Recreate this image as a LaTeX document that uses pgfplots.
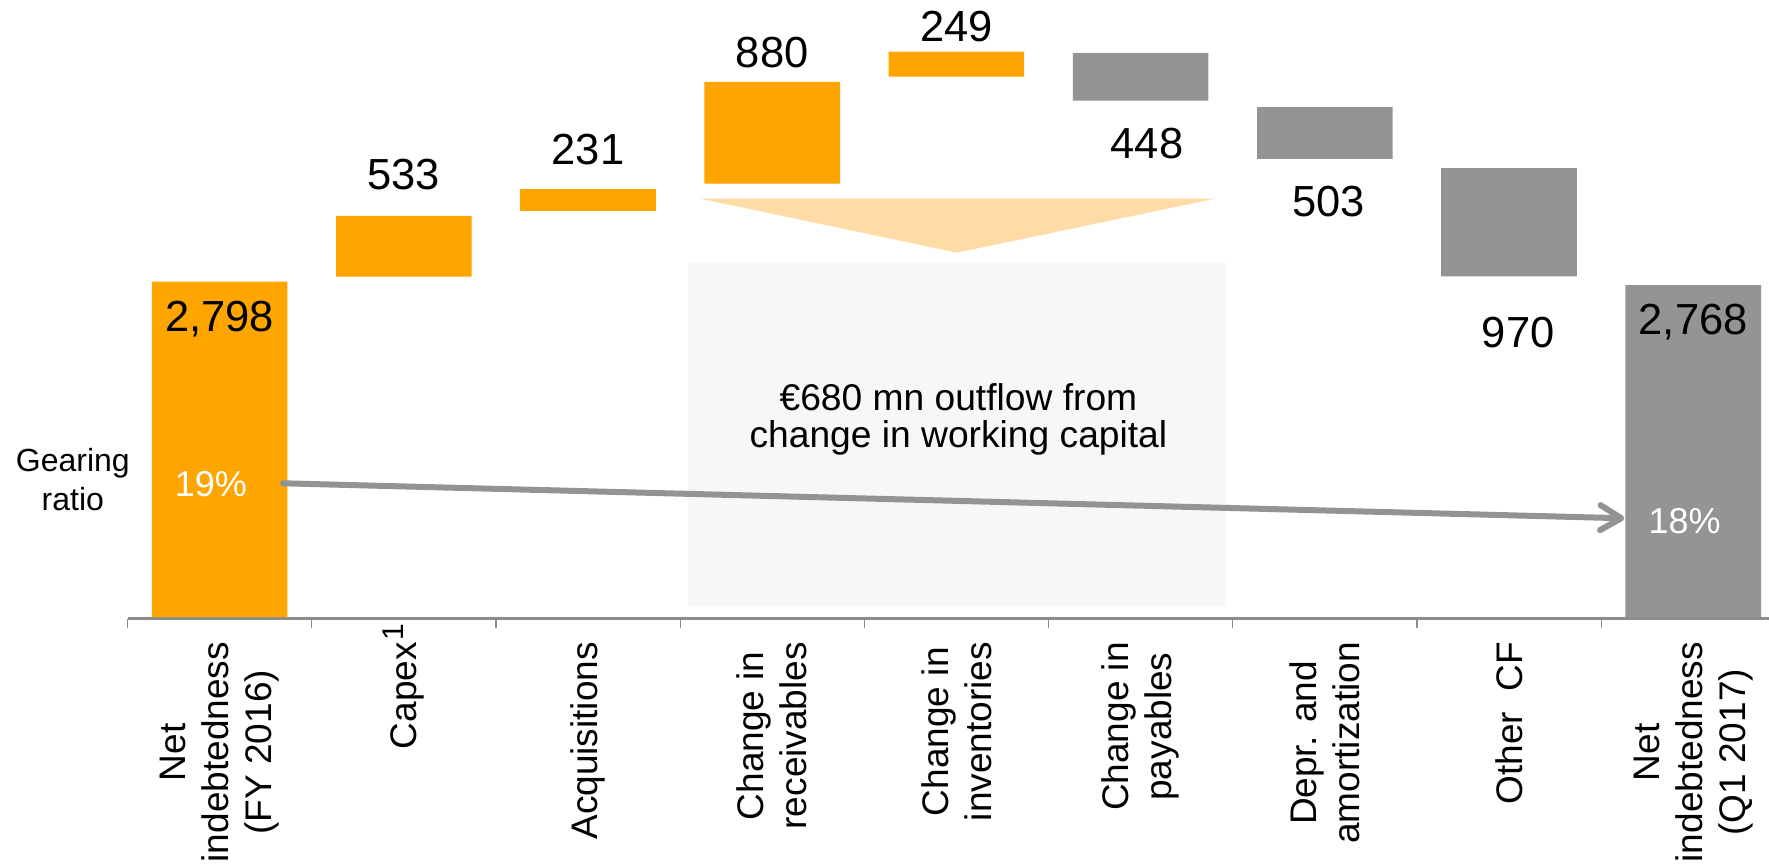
\documentclass[border=0pt]{standalone}
\usepackage{fontspec}
\setmainfont{Liberation Sans}
\usepackage{pgfplots}
\pgfplotsset{compat=1.18}
\usepackage{pgfplotstable}
\usetikzlibrary{arrows.meta}
\definecolor{barorange}{RGB}{255,165,0}
\definecolor{bargray}{RGB}{148,148,148}
\definecolor{axisgray}{RGB}{140,140,140}
\definecolor{lightorange}{RGB}{255,220,166}
\definecolor{boxgray}{RGB}{247,247,247}
\definecolor{arrowgray}{RGB}{147,147,147}

% floating waterfall bars: invisible base + visible size
\pgfplotstableread{
x base orange gray
0 0    2798 0
1 2839 507  0
2 3388 183  0
3 3615 849  0
4 4508 209  0
5 4308 0    398
6 3822 0    432
7 2842 0    904
8 0    0    2770
}\bridge

\newcommand{\fs}[2]{\fontsize{#1bp}{#2bp}\selectfont}
\pgfplotsset{frame/.style={
  at={(127.5bp,246.5bp)}, anchor=south west,
  scale only axis, width=1657.8bp, height=618.5bp,
  xmin=-0.5, xmax=8.5, ymin=-12.5, ymax=5148, clip=false}}

\begin{document}
\begin{tikzpicture}
\useasboundingbox (0,0) rectangle (1769bp,865bp);
\clip (0,0) rectangle (1769bp,865bp);
% background annotations
\begin{axis}[frame, hide axis]
\fill[boxgray] (axis cs:2.543,93.5) rectangle (axis cs:5.465,2965);
\fill[lightorange] (axis cs:2.610,3490) -- (axis cs:5.404,3490) -- (axis cs:4.003,3040) -- cycle;
\end{axis}
% bars
\begin{axis}[
  frame,
  axis x line*=bottom, axis y line=none, ytick=\empty,
  axis line style={draw=axisgray, line width=2.5bp},
  xtick={0,...,8},
  xticklabels={{Net\\indebtedness\\(FY 2016)},{Capex\rlap{\kern2bp\raisebox{13bp}{\fs{30}{30}1}}},{Acquisitions},{Change in\\receivables},{Change in\\inventories},{Change in\\payables},{Depr. and\\amortization},{Other~~CF},{Net\\indebtedness\\(Q1 2017)}},
  major tick length=0pt,
  minor xtick={-0.5,0.5,1.5,2.5,3.5,4.5,5.5,6.5,7.5,8.5},
  minor tick length=9bp,
  tick align=outside,
  minor tick style={draw=axisgray, line width=1.2bp},
  xticklabel style={rotate=90, anchor=east, align=center, inner sep=0pt, font=\fs{37}{43}},
  xticklabel shift=23.5bp,
  ybar stacked, bar width=135.6bp,
]
\addplot[draw=none, fill=none, forget plot] table[x=x,y=base]{\bridge};
\addplot[draw=none, fill=barorange] table[x=x,y=orange]{\bridge};
\addplot[draw=none, fill=bargray] table[x=x,y=gray]{\bridge};
\end{axis}
% foreground annotations
\begin{axis}[frame, hide axis]
\draw[arrowgray, line width=6bp, line cap=round,
  -{Straight Barb[length=21bp, width=25bp, round]}]
  (axis cs:0.344,1115.6) -- (axis cs:7.626,823.6);

\node[anchor=base, font=\fs{43.5}{50}] at (axis cs:0,2381) {2,798};
\node[anchor=base, font=\fs{43.5}{50}] at (axis cs:1,3569) {533};
\node[anchor=base, font=\fs{43.5}{50}] at (axis cs:2,3777) {231};
\node[anchor=base, font=\fs{43.5}{50}] at (axis cs:3,4583) {880};
\node[anchor=base, font=\fs{43.5}{50}] at (axis cs:4,4800) {249};
\node[anchor=base, font=\fs{43.5}{50}] at (axis cs:5.035,3827) {448};
\node[anchor=base, font=\fs{43.5}{50}] at (axis cs:6.02,3340) {503};
\node[anchor=base, font=\fs{43.5}{50}] at (axis cs:7.05,2245) {970};
\node[anchor=base, font=\fs{43.5}{50}] at (axis cs:8,2353) {2,768};

\node[anchor=base, font=\fs{36}{42}, text=white] at (axis cs:-0.047,1004) {19\%};
\node[anchor=base, font=\fs{36}{42}, text=white] at (axis cs:7.953,698) {18\%};

\node[anchor=base, font=\fs{32}{38}] at (axis cs:-0.797,1211) {Gearing};
\node[anchor=base, font=\fs{32}{38}] at (axis cs:-0.797,886) {ratio};

\node[anchor=base, font=\fs{37.2}{43}] at (axis cs:4.011,1727) {€680 mn outflow from};
\node[anchor=base, font=\fs{37.2}{43}] at (axis cs:4.011,1416) {change in working capital};
\end{axis}
\end{tikzpicture}
\end{document}
